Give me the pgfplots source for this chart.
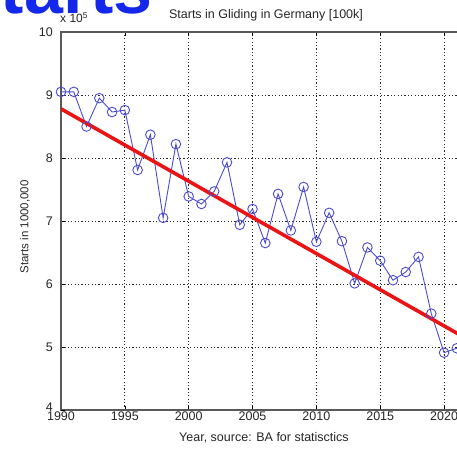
\documentclass[border=0pt]{standalone}
\usepackage{pgfplots}
\pgfplotsset{compat=1.18}
\usepackage{fontspec}
\setmainfont{Liberation Sans}
\definecolor{mblue}{RGB}{75,75,210}
\definecolor{mred}{RGB}{235,20,20}
\definecolor{tblue}{RGB}{20,40,235}
\pgfplotstableread{
year starts
1990 9.05
1991 9.05
1992 8.50
1993 8.95
1994 8.73
1995 8.76
1996 7.81
1997 8.37
1998 7.05
1999 8.22
2000 7.39
2001 7.27
2002 7.47
2003 7.93
2004 6.94
2005 7.19
2006 6.65
2007 7.43
2008 6.85
2009 7.54
2010 6.67
2011 7.13
2012 6.68
2013 6.01
2014 6.58
2015 6.37
2016 6.06
2017 6.19
2018 6.43
2019 5.53
2020 4.91
2021 4.98
}\datatable
\begin{document}
\begin{tikzpicture}
\useasboundingbox (0bp,0bp) rectangle (457bp,449bp);
\clip (0bp,0bp) rectangle (457bp,449bp);
\node[anchor=base west, font=\fontsize{70bp}{70bp}\selectfont\bfseries, text=tblue, inner sep=0] at (-46bp,435bp) {Starts};
\begin{axis}[
 scale only axis, width=408.6bp, height=378bp, at={(61bp,39bp)}, anchor=south west,
 xmin=1990, xmax=2022, ymin=4, ymax=10,
 xtick={1990,1995,...,2020}, ytick={5,6,...,10},
 extra y ticks={4}, extra y tick style={grid=none, yticklabel style={yshift=3bp}},
 grid=major, grid style={black!85, line width=0.9bp, dash pattern=on 1.2bp off 2.2bp},
 tick align=inside, major tick length=4bp,
 axis line style={black!65, line width=1.1bp},
 tick style={black, line width=0.6bp},
 /pgf/number format/assume math mode=true,
 /pgf/number format/1000 sep={},
 ticklabel style={font=\fontsize{12.5bp}{14bp}\selectfont, text=black!85, inner sep=0},
 xticklabel style={anchor=north, yshift=-2bp},
 yticklabel style={anchor=east, xshift=-8bp},
]
\addplot[mblue, line width=0.9bp, mark=o, mark size=4.8bp, mark options={solid, line width=0.9bp}] table[x=year, y=starts] {\datatable};
\addplot[mred, line width=3.6bp] coordinates {(1990,8.78) (2022,5.105)};
\end{axis}
\node[anchor=base, font=\fontsize{12.5bp}{14bp}\selectfont, text=black!85] at (266bp,430bp) {Starts in Gliding in Germany [100k]};
\node[anchor=base west, font=\fontsize{12bp}{14bp}\selectfont, text=black!85, inner sep=0] at (60bp,426bp) {x 10\textsuperscript{5}};
\node[anchor=base, font=\fontsize{12.5bp}{14bp}\selectfont, text=black!85] at (264bp,8bp) {Year, source: BA for statisctics};
\node[rotate=90, font=\fontsize{11.5bp}{14bp}\selectfont, text=black!85] at (25bp,222bp) {Starts in 1000,000};
\end{tikzpicture}
\end{document}
